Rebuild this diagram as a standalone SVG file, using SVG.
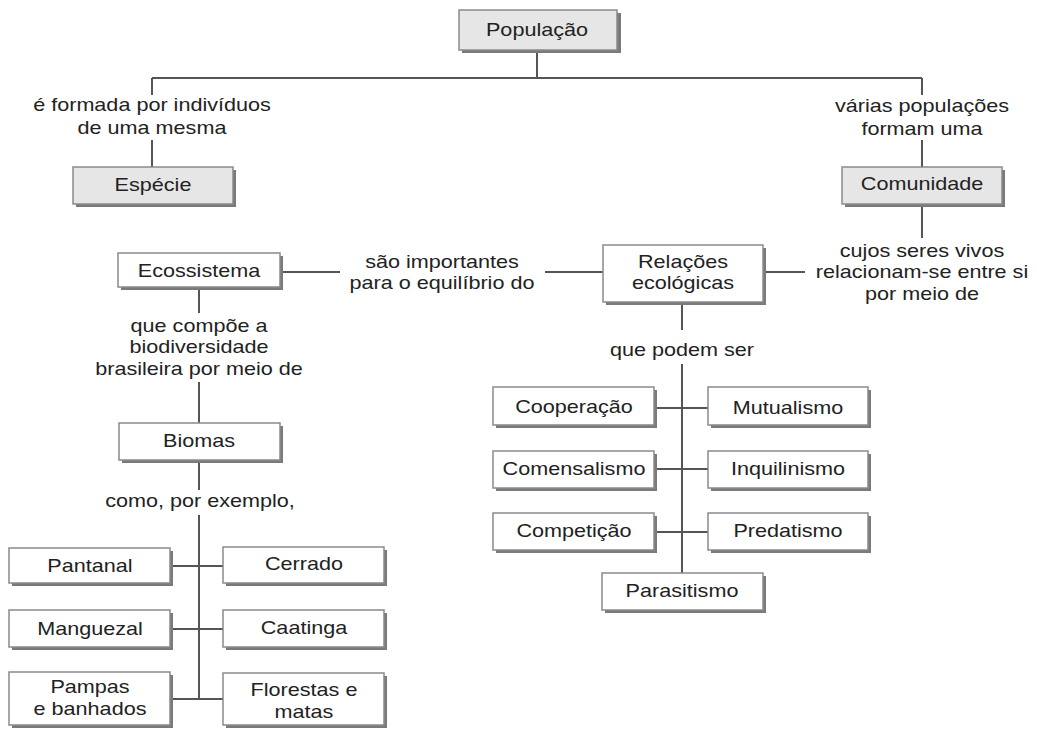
<svg xmlns="http://www.w3.org/2000/svg" width="1037" height="731" viewBox="0 0 1037 731">
<style>
.sh{fill:#7a7a7a}
.bx{fill:#ffffff;stroke:#8a8a8a;stroke-width:1.5}
.gy{fill:#e6e6e6;stroke:#8a8a8a;stroke-width:1.5}
.ln{stroke:#555;stroke-width:2;fill:none}
text{font-family:"Liberation Sans",Arial,sans-serif;font-size:18px;fill:#222;text-anchor:middle}
</style>
<rect width="1037" height="731" fill="#ffffff"/>
<g id="connectors" class="ln">
<path d="M537 50V78M152 78H922M152 78V95M152 140V167M922 78V95M922 140V167"/>
<path d="M922 205V238M766 272H805"/>
<path d="M283 272H340M545 272H603"/>
<path d="M199 288V313M199 382V423M199 460V490M199 515V699"/>
<path d="M170 566H223M170 629H223M170 699H223"/>
<path d="M682 303V330M682 364V573"/>
<path d="M657 408H708M657 469H708M657 532H708"/>
</g>
<g id="populacao"><rect class="sh" x="462" y="13" width="159" height="40"/><rect class="gy" x="459" y="10" width="158" height="40"/><text transform="translate(537 36) scale(1.2 1)">População</text></g>
<g id="lbl-especie"><text transform="translate(152 111) scale(1.2 1)">é formada por indivíduos<tspan x="0" dy="23">de uma mesma</tspan></text></g>
<g id="especie"><rect class="sh" x="76" y="170" width="160" height="37"/><rect class="gy" x="73" y="167" width="160" height="37"/><text transform="translate(153 191) scale(1.2 1)">Espécie</text></g>
<g id="lbl-comunidade"><text transform="translate(922 112) scale(1.2 1)">várias populações<tspan x="0" dy="23">formam  uma</tspan></text></g>
<g id="comunidade"><rect class="sh" x="845" y="170" width="160" height="37"/><rect class="gy" x="842" y="167" width="160" height="37"/><text transform="translate(922 190) scale(1.2 1)">Comunidade</text></g>
<g id="lbl-relacoes"><text transform="translate(922 257) scale(1.2 1)">cujos seres vivos<tspan x="0" dy="21.5">relacionam-se entre si</tspan><tspan x="0" dy="21.5">por meio de</tspan></text></g>
<g id="ecossistema"><rect class="sh" x="121" y="256" width="162" height="34"/><rect class="bx" x="118" y="253" width="162" height="34"/><text transform="translate(199 277) scale(1.2 1)">Ecossistema</text></g>
<g id="lbl-equilibrio"><text transform="translate(442 268) scale(1.2 1)">são  importantes<tspan x="0" dy="21">para o equilíbrio do</tspan></text></g>
<g id="relacoes"><rect class="sh" x="606" y="248" width="160" height="57"/><rect class="bx" x="603" y="245" width="160" height="57"/><text transform="translate(683 268) scale(1.2 1)">Relações<tspan x="0" dy="21">ecológicas</tspan></text></g>
<g id="lbl-biodiversidade"><text transform="translate(199 332) scale(1.2 1)">que compõe a<tspan x="0" dy="21.5">biodiversidade</tspan><tspan x="0" dy="21.5">brasileira por meio de</tspan></text></g>
<g id="biomas"><rect class="sh" x="122" y="426" width="161" height="37"/><rect class="bx" x="119" y="423" width="161" height="37"/><text transform="translate(199 447) scale(1.2 1)">Biomas</text></g>
<g id="lbl-exemplo"><text transform="translate(200 507) scale(1.2 1)">como, por  exemplo,</text></g>
<g id="lbl-podem"><text transform="translate(682 356) scale(1.2 1)">que podem ser</text></g>
<g id="pantanal"><rect class="sh" x="12" y="551" width="161" height="35"/><rect class="bx" x="9" y="548" width="161" height="35"/><text transform="translate(90 572) scale(1.2 1)">Pantanal</text></g>
<g id="cerrado"><rect class="sh" x="226" y="550" width="161" height="36"/><rect class="bx" x="223" y="547" width="161" height="36"/><text transform="translate(304 570) scale(1.2 1)">Cerrado</text></g>
<g id="manguezal"><rect class="sh" x="12" y="613" width="161" height="37"/><rect class="bx" x="9" y="610" width="161" height="37"/><text transform="translate(90 635) scale(1.2 1)">Manguezal</text></g>
<g id="caatinga"><rect class="sh" x="226" y="613" width="161" height="37"/><rect class="bx" x="223" y="610" width="161" height="37"/><text transform="translate(304 634) scale(1.2 1)">Caatinga</text></g>
<g id="pampas"><rect class="sh" x="12" y="675" width="161" height="53"/><rect class="bx" x="9" y="672" width="161" height="53"/><text transform="translate(90 693) scale(1.2 1)">Pampas<tspan x="0" dy="22">e banhados</tspan></text></g>
<g id="florestas"><rect class="sh" x="226" y="676" width="161" height="52"/><rect class="bx" x="223" y="673" width="161" height="52"/><text transform="translate(304 696) scale(1.2 1)">Florestas e<tspan x="0" dy="22">matas</tspan></text></g>
<g id="cooperacao"><rect class="sh" x="496" y="390" width="161" height="38"/><rect class="bx" x="493" y="387" width="161" height="38"/><text transform="translate(574 413) scale(1.2 1)">Cooperação</text></g>
<g id="mutualismo"><rect class="sh" x="711" y="390" width="160" height="38"/><rect class="bx" x="708" y="387" width="160" height="38"/><text transform="translate(788 414) scale(1.2 1)">Mutualismo</text></g>
<g id="comensalismo"><rect class="sh" x="496" y="454" width="161" height="37"/><rect class="bx" x="493" y="451" width="161" height="37"/><text transform="translate(574 475) scale(1.2 1)">Comensalismo</text></g>
<g id="inquilinismo"><rect class="sh" x="711" y="454" width="160" height="37"/><rect class="bx" x="708" y="451" width="160" height="37"/><text transform="translate(788 475) scale(1.2 1)">Inquilinismo</text></g>
<g id="competicao"><rect class="sh" x="496" y="516" width="161" height="37"/><rect class="bx" x="493" y="513" width="161" height="37"/><text transform="translate(574 537) scale(1.2 1)">Competição</text></g>
<g id="predatismo"><rect class="sh" x="711" y="516" width="160" height="37"/><rect class="bx" x="708" y="513" width="160" height="37"/><text transform="translate(788 537) scale(1.2 1)">Predatismo</text></g>
<g id="parasitismo"><rect class="sh" x="605" y="576" width="161" height="37"/><rect class="bx" x="602" y="573" width="161" height="37"/><text transform="translate(682 597) scale(1.2 1)">Parasitismo</text></g>
</svg>
